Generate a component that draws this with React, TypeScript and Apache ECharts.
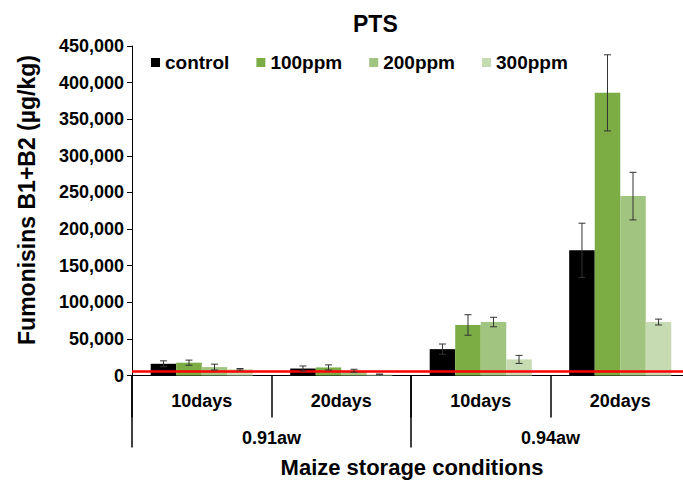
import React, { useEffect, useRef } from "react";
import * as echarts from "echarts";

const categories = ["0.91-10days", "0.91-20days", "0.94-10days", "0.94-20days"];
const groupLabels = ["0.91aw", "0.94aw"];
const seriesNames = ["control", "100ppm", "200ppm", "300ppm"];
const controlValues = [16000, 9500, 36000, 171000];
const controlErrors = [4000, 3500, 7000, 37000];
const ppm100Values = [17500, 11000, 69000, 386000];
const ppm100Errors = [3500, 3500, 14000, 52000];
const ppm200Values = [11500, 6500, 73000, 245000];
const ppm200Errors = [4000, 2000, 6500, 32500];
const ppm300Values = [8500, 1500, 22000, 73000];
const ppm300Errors = [1000, 500, 5500, 4000];
const limitValue = 6000;

const colors = ["#000000", "#7cad45", "#a1c581", "#c7dbb3"];
const FONT = "'Liberation Sans', Arial, sans-serif";
const BAR_FRAC = 0.183;

export default function App() {
  const ref = useRef<HTMLDivElement>(null);
  useEffect(() => {
    if (!ref.current) return;
    const chart = echarts.init(ref.current, null, { renderer: "svg" });
    const values = [controlValues, ppm100Values, ppm200Values, ppm300Values];
    const errors = [controlErrors, ppm100Errors, ppm200Errors, ppm300Errors];

    const barSeries: any[] = values.map((vals, i) => ({
      name: seriesNames[i],
      type: "bar",
      data: vals,
      barWidth: BAR_FRAC * 100 + "%",
      barGap: "0%",
      itemStyle: { color: colors[i] },
      xAxisIndex: 0,
      yAxisIndex: 0,
      z: 2,
      ...(i === 3
        ? {
            markLine: {
              silent: true,
              symbol: "none",
              label: { show: false },
              lineStyle: { color: "#ff0000", width: 2.5, type: "solid" },
              data: [{ yAxis: limitValue }],
              z: 5,
            },
          }
        : {}),
    }));

    const errSeries: any[] = values.map((vals, i) => ({
      name: seriesNames[i] + "-err",
      type: "custom",
      xAxisIndex: 0,
      yAxisIndex: 0,
      z: 10,
      silent: true,
      data: vals.map((v, j) => [j, v, errors[i][j]]),
      encode: { x: 0, y: 1 },
      renderItem: (params: any, api: any) => {
        const idx = api.value(0);
        const v = api.value(1);
        const e = api.value(2);
        const band = api.size([1, 0])[0];
        const off = (i - 1.5) * band * BAR_FRAC;
        const top = api.coord([idx, v + e]);
        const bot = api.coord([idx, Math.max(v - e, 0)]);
        const x = top[0] + off;
        const cap = 3.5;
        const style = { stroke: "#333333", lineWidth: 1 };
        return {
          type: "group",
          children: [
            { type: "line", shape: { x1: x, y1: top[1], x2: x, y2: bot[1] }, style },
            { type: "line", shape: { x1: x - cap, y1: top[1], x2: x + cap, y2: top[1] }, style },
            { type: "line", shape: { x1: x - cap, y1: bot[1], x2: x + cap, y2: bot[1] }, style },
          ],
        };
      },
    }));

    chart.setOption({
      animation: false,
      title: [
        {
          text: "PTS",
          left: 348,
          top: 7,
          textStyle: { fontFamily: FONT, fontWeight: "bold", fontSize: 23, color: "#000" },
        },
        {
          text: "Maize storage conditions",
          left: 407,
          top: 451,
          textAlign: "center",
          textStyle: { fontFamily: FONT, fontWeight: "bold", fontSize: 22, color: "#000" },
        },
      ],
      legend: {
        data: seriesNames,
        left: 146,
        top: 48,
        itemWidth: 9,
        itemHeight: 9,
        itemGap: 27,
        icon: "rect",
        textStyle: { fontFamily: FONT, fontWeight: "bold", fontSize: 19, color: "#000" },
      },
      graphic: [
        {
          type: "text",
          x: 27,
          y: 200,
          rotation: Math.PI / 2,
          style: {
            text: "Fumonisins B1+B2 (µg/kg)",
            fontFamily: FONT,
            fontWeight: "bold",
            fontSize: 23,
            fill: "#000",
            textAlign: "center",
            textVerticalAlign: "middle",
          },
        },
      ],
      grid: {
        left: 132,
        width: 558,
        top: 46,
        height: 329.5,
        containLabel: false,
        outerBoundsMode: "none",
      },
      xAxis: [
        {
          type: "category",
          data: categories,
          position: "bottom",
          axisLine: { show: true, lineStyle: { color: "#000", width: 1 } },
          axisTick: { show: true, length: 42, interval: 0, lineStyle: { color: "#000", width: 1.5 } },
          axisLabel: {
            interval: 0,
            margin: 16,
            formatter: (v: string) => v.split("-")[1],
            fontFamily: FONT,
            fontWeight: "bold",
            fontSize: 18,
            color: "#000",
          },
        },
        {
          type: "category",
          data: groupLabels,
          position: "bottom",
          axisLine: { show: false },
          axisTick: { show: true, length: 72, interval: 0, lineStyle: { color: "#000", width: 1.5 } },
          axisLabel: {
            interval: 0,
            margin: 53,
            fontFamily: FONT,
            fontWeight: "bold",
            fontSize: 18,
            color: "#000",
          },
        },
      ],
      yAxis: {
        type: "value",
        min: 0,
        max: 450000,
        interval: 50000,
        splitLine: { show: false },
        axisLine: { show: true, lineStyle: { color: "#000", width: 1 } },
        axisTick: { show: true, length: 5, lineStyle: { color: "#000" } },
        axisLabel: {
          margin: 8,
          formatter: (v: number) => v.toLocaleString("en-US"),
          fontFamily: FONT,
          fontWeight: "bold",
          fontSize: 18,
          color: "#000",
        },
      },
      series: [...barSeries, ...errSeries],
    });
    return () => chart.dispose();
  }, []);
  return (
    <div
      ref={ref}
      style={{ position: "fixed", left: 0, top: 0, width: 683, height: 481, background: "#fff" }}
    />
  );
}
